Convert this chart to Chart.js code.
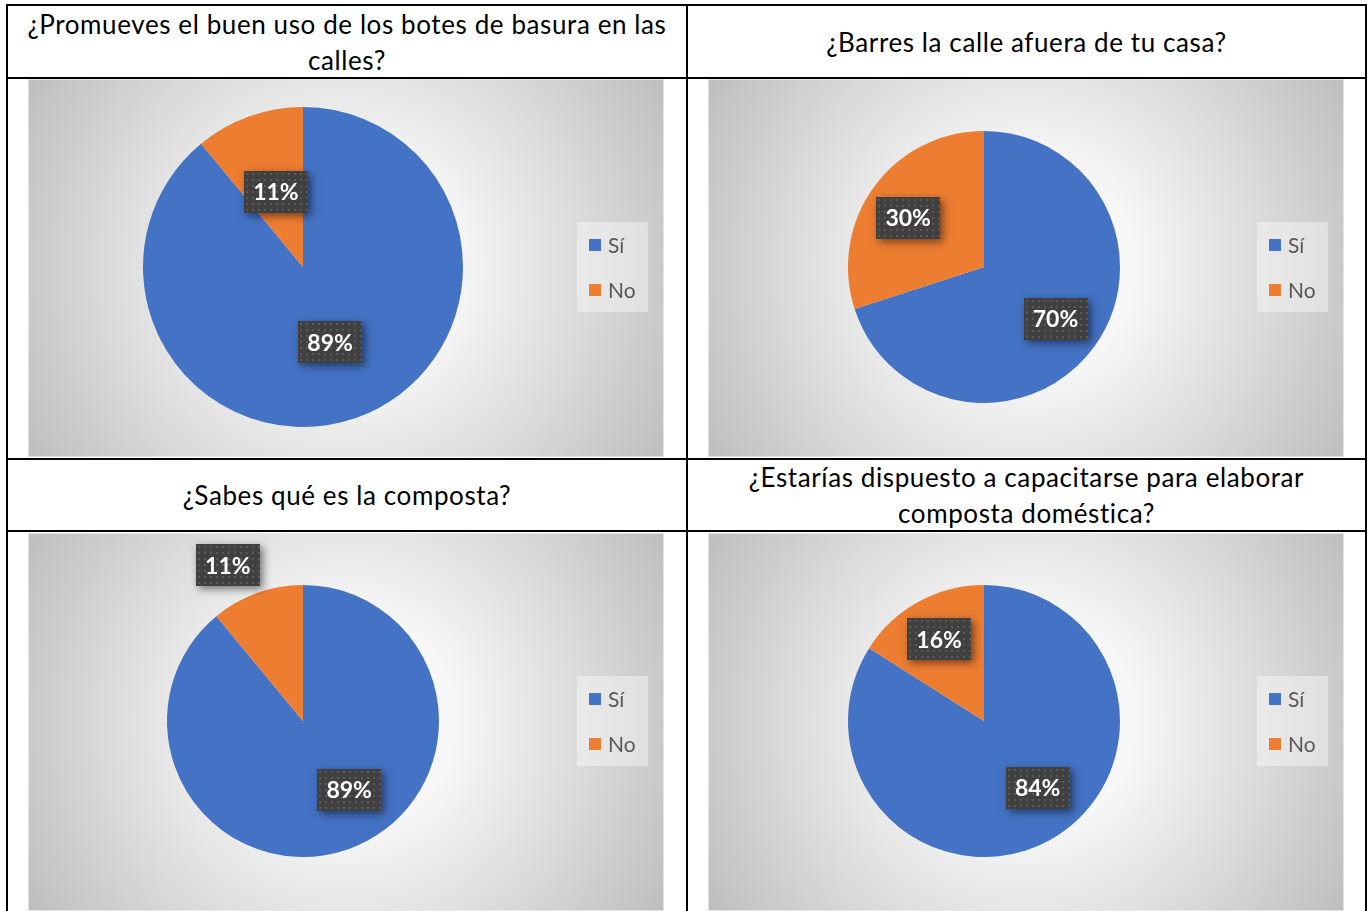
<!DOCTYPE html>
<html>
<head>
<meta charset="utf-8">
<title>Encuesta: limpieza y composta</title>
<script src="https://cdn.jsdelivr.net/npm/chart.js@4/dist/chart.umd.min.js"></script>
<style>
  html, body { margin: 0; padding: 0; background: #fff; }
  body { width: 1369px; height: 911px; position: relative; overflow: hidden;
         font-family: Lato, "Open Sans", "DejaVu Sans", sans-serif; }
  .rule { position: absolute; background: #000; }
  .title { position: absolute; display: flex; align-items: center; justify-content: center;
           text-align: center; font-size: 26px; letter-spacing: 0.6px; line-height: 36px; color: #000; }
  canvas { position: absolute; }
</style>
</head>
<body>
<script>
// Survey answers, one entry per question
const categories = ['Sí', 'No'];
const questions = [
  ['¿Promueves el buen uso de los botes de basura en las', 'calles?'],
  ['¿Barres la calle afuera de tu casa?'],
  ['¿Sabes qué es la composta?'],
  ['¿Estarías dispuesto a capacitarse para elaborar', 'composta doméstica?']
];
const yesPercent = [89, 70, 89, 84];
const noPercent = [11, 30, 11, 16];

// Table cells: [left, top, width, height] for titles and charts
const titleCells = [[8, 6, 678, 71], [688, 6, 677, 71], [8, 460, 678, 70], [688, 460, 677, 70]];
const chartCells = [[28, 79], [708, 79], [28, 533], [708, 533]];
const CHART_W = 636, CHART_H = 378;

// Pie placement within each chart panel
const pieLayouts = [
  { top: 28, bottom: 30, left: 0, right: 86 },
  { top: 52, bottom: 54, left: 0, right: 84 },
  { top: 52, bottom: 54, left: 0, right: 86 },
  { top: 52, bottom: 54, left: 0, right: 84 }
];
// Where each value label sits: fraction of the radius, plus a small turn in degrees
const labelRadius = [[0.5, 0.5], [0.65, 0.665], [0.61, 1.27], [0.63, 0.685]];
const labelTurn = [[0, 0], [0, -3], [-14, -6], [-10, 0]];

// Grid lines of the table
function rule(l, t, w, h) {
  const d = document.createElement('div');
  d.className = 'rule';
  Object.assign(d.style, { left: l + 'px', top: t + 'px', width: w + 'px', height: h + 'px' });
  document.body.appendChild(d);
}
rule(6, 4, 1361, 2);
rule(6, 77, 1361, 2);
rule(6, 458, 1361, 2);
rule(6, 530, 1361, 2);
rule(6, 4, 2, 907);
rule(686, 4, 2, 907);
rule(1365, 4, 2, 907);

questions.forEach((lines, i) => {
  const d = document.createElement('div');
  d.className = 'title';
  const [l, t, w, h] = titleCells[i];
  Object.assign(d.style, { left: l + 'px', top: t + 'px', width: w + 'px', height: h + 'px' });
  d.innerHTML = lines.join('<br>');
  document.body.appendChild(d);
});

// Dotted fill for the value tags
const dotTile = document.createElement('canvas');
dotTile.width = 6; dotTile.height = 6;
(function () {
  const c = dotTile.getContext('2d');
  c.fillStyle = '#404040'; c.fillRect(0, 0, 6, 6);
  c.fillStyle = '#5a5a5a'; c.fillRect(2, 2, 2, 2);
})();

const panelBackdrop = {
  id: 'panelBackdrop',
  beforeDraw(chart) {
    const { ctx, width, height } = chart;
    const cx = width / 2, cy = height / 2;
    const g = ctx.createRadialGradient(cx, cy, 0, cx, cy, Math.hypot(cx, cy));
    g.addColorStop(0, '#ffffff');
    g.addColorStop(0.3, '#f6f6f6');
    g.addColorStop(1, '#bebebe');
    ctx.save();
    ctx.fillStyle = g;
    ctx.fillRect(0, 0, width, height);
    ctx.strokeStyle = 'rgba(235,235,235,0.8)';
    ctx.lineWidth = 1;
    ctx.strokeRect(0.5, 0.5, width - 1, height - 1);
    ctx.restore();
  }
};

const sideLegend = {
  id: 'sideLegend',
  afterDraw(chart) {
    const { ctx } = chart;
    const colors = chart.data.datasets[0].backgroundColor;
    ctx.save();
    ctx.fillStyle = 'rgba(255,255,255,0.4)';
    ctx.fillRect(549, 143, 71, 90);
    ctx.font = '21px Lato, "Open Sans", sans-serif';
    ctx.textBaseline = 'middle';
    chart.data.labels.forEach((lab, i) => {
      const cy = 166 + i * 45;
      ctx.fillStyle = colors[i];
      ctx.fillRect(561, cy - 6, 12, 12);
      ctx.fillStyle = '#595959';
      ctx.fillText(lab, 580, cy + 1);
    });
    ctx.restore();
  }
};

const valueTags = {
  id: 'valueTags',
  afterDatasetsDraw(chart, args, opts) {
    const { ctx } = chart;
    const ds = chart.data.datasets[0];
    const meta = chart.getDatasetMeta(0);
    meta.data.forEach((arc, i) => {
      const p = arc.getProps(['x', 'y', 'startAngle', 'endAngle', 'outerRadius'], true);
      const mid = (p.startAngle + p.endAngle) / 2 + opts.turn[i] * Math.PI / 180;
      const d = p.outerRadius * opts.radius[i];
      const lx = p.x + Math.cos(mid) * d;
      const ly = p.y + Math.sin(mid) * d;
      const w = 64, h = 42;
      const bx = Math.round(lx - w / 2), by = Math.round(ly - h / 2);
      ctx.save();
      ctx.shadowColor = 'rgba(0,0,0,0.5)';
      ctx.shadowBlur = 8;
      ctx.shadowOffsetX = 3;
      ctx.shadowOffsetY = 3;
      ctx.fillStyle = '#404040';
      ctx.fillRect(bx, by, w, h);
      ctx.restore();
      ctx.save();
      ctx.translate(bx, by);
      ctx.fillStyle = ctx.createPattern(dotTile, 'repeat');
      ctx.fillRect(0, 0, w, h);
      ctx.restore();
      ctx.save();
      ctx.fillStyle = '#ffffff';
      ctx.font = 'bold 23px Lato, "Open Sans", sans-serif';
      ctx.textAlign = 'center';
      ctx.textBaseline = 'middle';
      ctx.fillText(ds.data[i] + '%', lx, ly + 1);
      ctx.restore();
    });
  }
};

chartCells.forEach(([l, t], i) => {
  const cv = document.createElement('canvas');
  cv.width = CHART_W; cv.height = CHART_H;
  cv.style.left = l + 'px'; cv.style.top = t + 'px';
  cv.style.width = CHART_W + 'px'; cv.style.height = CHART_H + 'px';
  document.body.appendChild(cv);
  new Chart(cv, {
    type: 'pie',
    data: {
      labels: categories,
      datasets: [{
        data: [yesPercent[i], noPercent[i]],
        backgroundColor: ['#4472C4', '#ED7D31'],
        borderWidth: 0
      }]
    },
    options: {
      responsive: false,
      animation: false,
      layout: { padding: pieLayouts[i] },
      plugins: {
        legend: { display: false },
        tooltip: { enabled: false },
        valueTags: { radius: labelRadius[i], turn: labelTurn[i] }
      }
    },
    plugins: [panelBackdrop, valueTags, sideLegend]
  });
});
</script>
</body>
</html>
